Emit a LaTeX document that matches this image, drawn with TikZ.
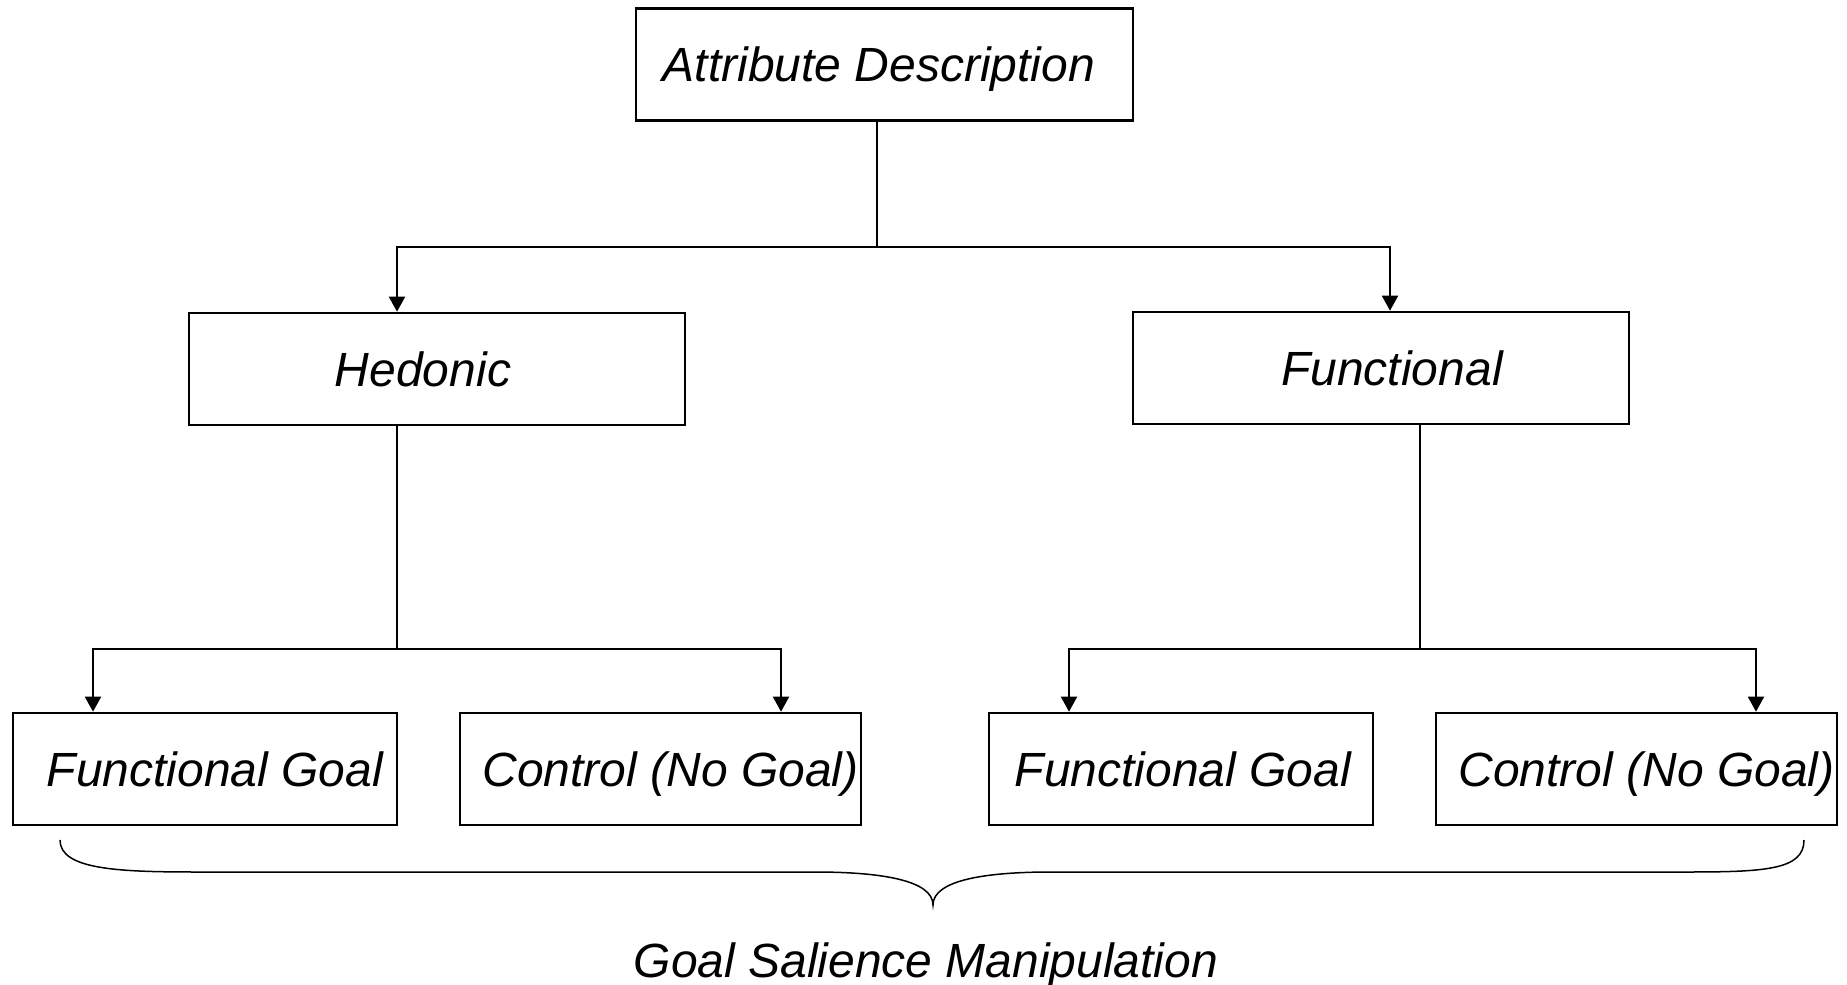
\documentclass[tikz,border=0pt]{standalone}
\usepackage{fontspec}
\setmainfont{Liberation Sans}
\usetikzlibrary{arrows.meta}
\begin{document}
\begin{tikzpicture}[x=0.5pt,y=-0.5pt,
  txt/.style={font=\fontsize{24}{29}\selectfont\itshape,text height=17.2pt,text depth=0pt},
  box/.style={txt,draw,line width=1.3pt,inner sep=0pt,minimum height=56pt},
  conn/.style={line width=1pt},
  arr/.style={conn,-{Triangle[length=7.5pt,width=8pt]}}]
\useasboundingbox (0,0) rectangle (1847,985);
\node[box,minimum width=248.5pt] (top) at (884.5,64.5) {Attribute Description\hspace*{5.5pt}};
\node[box,minimum width=248pt] (hed) at (437,369) {Hedonic\hspace*{14pt}};
\node[box,minimum width=248pt] (fun) at (1381,368) {\hspace*{11pt}Functional};
\node[box,minimum width=192pt] (fg1) at (205,769) {\hspace*{10pt}Functional Goal};
\node[box,minimum width=200.5pt] (c1) at (660.5,769) {\hspace*{10pt}Control (No Goal)};
\node[box,minimum width=192pt] (fg2) at (1181,769) {\hspace*{2pt}Functional Goal};
\node[box,minimum width=200.5pt] (c2) at (1636.5,769) {\hspace*{10pt}Control (No Goal)};
\node[txt,inner sep=0pt] (gsm) at (926,960.5) {Goal Salience Manipulation};

\coordinate (j0) at (877,247);
\coordinate (a1) at (397,247);
\coordinate (a2) at (1390,247);
\draw[conn] (top.south -| j0) -- (j0);
\draw[arr] (j0) -- (a1) -- (hed.north -| a1);
\draw[arr] (j0) -- (a2) -- (fun.north -| a2);

\coordinate (j1) at (397,649);
\coordinate (b1) at (93,649);
\coordinate (b2) at (781,649);
\draw[conn] (hed.south -| j1) -- (j1);
\draw[arr] (j1) -- (b1) -- (fg1.north -| b1);
\draw[arr] (j1) -- (b2) -- (c1.north -| b2);

\coordinate (j2) at (1420,649);
\coordinate (b3) at (1069,649);
\coordinate (b4) at (1756,649);
\draw[conn] (fun.south -| j2) -- (j2);
\draw[arr] (j2) -- (b3) -- (fg2.north -| b3);
\draw[arr] (j2) -- (b4) -- (c2.north -| b4);

\draw[line width=0.75pt] (60,840) .. controls (60,870) and (120,872) .. (200,872)
  -- (815,872) .. controls (880,872) and (933,880) .. (933,905)
  .. controls (933,880) and (986,872) .. (1051,872)
  -- (1685,872) .. controls (1765,872) and (1804,870) .. (1804,840);
\end{tikzpicture}
\end{document}
